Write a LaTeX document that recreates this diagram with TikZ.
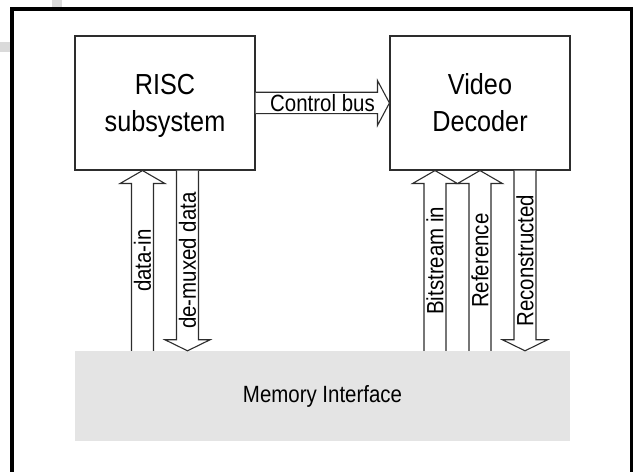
\documentclass[tikz,border=0pt]{standalone}
\usepackage{fontspec}
\setmainfont{Liberation Sans}[FakeStretch=0.87]
\usetikzlibrary{calc}

\definecolor{memfill}{RGB}{228,228,228}
\definecolor{wmark}{RGB}{218,218,218}
\definecolor{edge}{RGB}{45,45,45}

\tikzset{
  block/.style={draw=edge, line width=1.1pt, fill=white, minimum width=180pt,
    minimum height=134pt, inner sep=0pt},
  bigtext/.style={font=\fontsize{29}{34}\selectfont, anchor=base, inner sep=0pt},
  lbl/.style={font=\fontsize{23.5}{28}\selectfont, inner sep=0pt},
  bus/.style={draw=edge, line width=1.1pt, fill=white, line join=miter},
}

% wide block arrow pointing up: #1 = foot, #2 = tip
\newcommand\busup[2]{%
  \draw[bus] ($(#1)+(-11,0)$) -- ($(#2)+(-11,-13)$) -- ($(#2)+(-22.5,-13)$)
    -- (#2) -- ($(#2)+(22.5,-13)$) -- ($(#2)+(11,-13)$) -- ($(#1)+(11,0)$);}
% wide block arrow pointing down: #1 = foot, #2 = tip
\newcommand\busdown[2]{%
  \draw[bus] ($(#1)+(-11,0)$) -- ($(#2)+(-11,11)$) -- ($(#2)+(-22.5,11)$)
    -- (#2) -- ($(#2)+(22.5,11)$) -- ($(#2)+(11,11)$) -- ($(#1)+(11,0)$);}

\begin{document}
\begin{tikzpicture}[x=1pt,y=1pt]
\useasboundingbox (0,0) rectangle (634,471);
\clip (0,0) rectangle (634,471);

% faint marks outside the frame
\fill[wmark] (52,464.3) rectangle (62,471);
\fill[wmark] (0,419.3) rectangle (10,429.3);

% outer frame (runs past the lower edge)
\draw[line width=3.3pt] (12,-10) rectangle (631.5,462);

% blocks
\node[block] (risc) at (165,368) {};
\node[block] (vdec) at (480,368) {};
\node[fill=memfill, minimum width=495pt, minimum height=90pt, inner sep=0pt] (mem) at (322.5,75) {};

\node[bigtext] (risc1) at ($(risc.center)+(0,8)$) {RISC};
\node[bigtext] (risc2) at ($(risc.center)+(0,-28.7)$) {subsystem};
\node[bigtext] (vdec1) at ($(vdec.center)+(0,8)$) {Video};
\node[bigtext] (vdec2) at ($(vdec.center)+(0,-28.7)$) {Decoder};
\node[lbl, anchor=base] (memtext) at ($(mem.center)+(0,-6.7)$) {Memory Interface};

% control bus
\draw[bus] ($(risc.east)+(0,10.7)$) -- ($(vdec.west)+(-12,10.7)$) -- ($(vdec.west)+(-12,22.5)$)
  -- (vdec.west) -- ($(vdec.west)+(-12,-22.5)$) -- ($(vdec.west)+(-12,-10.7)$) -- ($(risc.east)+(0,-10.7)$);
\node[lbl, anchor=base] (cbus) at ($(risc.east)!0.5!(vdec.west)+(0,-8.4)$) {Control bus};

% memory ports of the RISC subsystem
\coordinate (dinT) at ($(risc.south)+(-22.5,0)$);
\coordinate (dinB) at (dinT |- mem.north);
\coordinate (dmxT) at ($(risc.south)+(22.5,0)$);
\coordinate (dmxB) at (dmxT |- mem.north);
\busup{dinB}{dinT}
\busdown{dmxT}{dmxB}
\node[lbl, rotate=90] (dinL) at ($(dinT)!0.5!(dinB)$) {data-in};
\node[lbl, rotate=90] (dmxL) at ($(dmxT)!0.5!(dmxB)$) {de-muxed data};

% memory ports of the video decoder
\coordinate (bitT) at ($(vdec.south)+(-45,0)$);
\coordinate (bitB) at (bitT |- mem.north);
\coordinate (refT) at (vdec.south);
\coordinate (refB) at (refT |- mem.north);
\coordinate (recT) at ($(vdec.south)+(45,0)$);
\coordinate (recB) at (recT |- mem.north);
\busup{bitB}{bitT}
\busup{refB}{refT}
\busdown{recT}{recB}
\node[lbl, rotate=90] (bitL) at ($(bitT)!0.5!(bitB)$) {Bitstream in};
\node[lbl, rotate=90] (refL) at ($(refT)!0.5!(refB)$) {Reference};
\node[lbl, rotate=90] (recL) at ($(recT)!0.5!(recB)$) {Reconstructed};
\end{tikzpicture}
\end{document}
